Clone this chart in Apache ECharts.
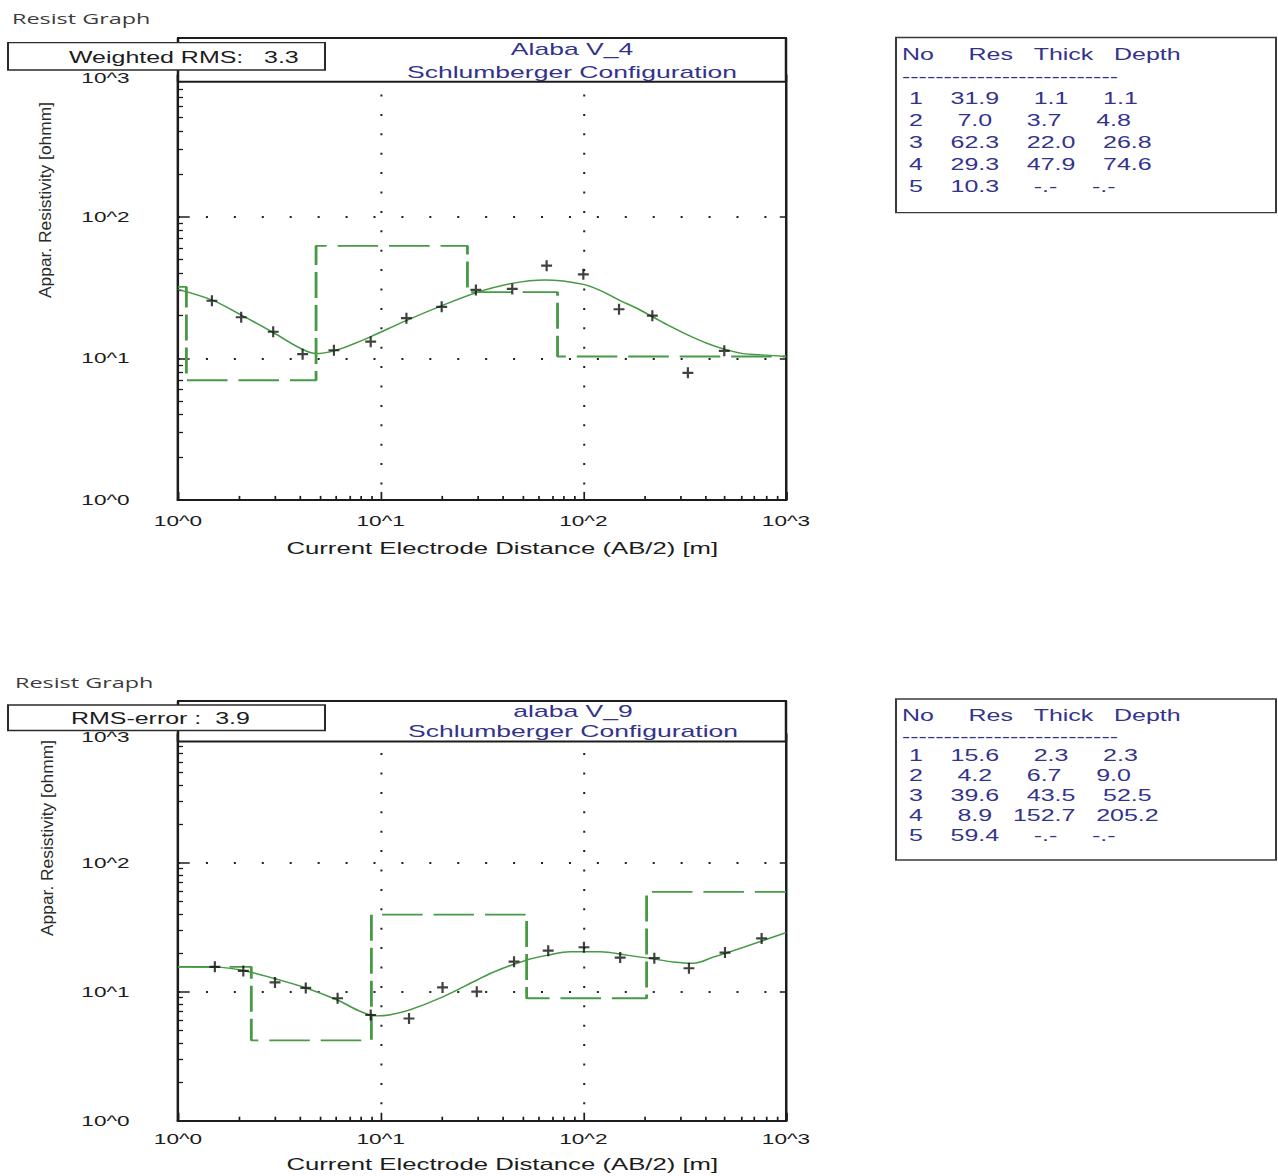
<!DOCTYPE html>
<html><head><meta charset="utf-8">
<script src="https://cdn.jsdelivr.net/npm/echarts@6/dist/echarts.min.js"></script>
<style>
html,body{margin:0;padding:0;background:#fff;overflow:hidden;width:1278px;height:1176px}
#c{position:absolute;left:0;top:0;height:1176px;transform-origin:0 0;}
</style>
</head><body><div id="c"></div>
<script>
// ---------------- data ----------------
const tickValues = [1, 10, 100, 1000];
const tickLabels = ['10^0', '10^1', '10^2', '10^3'];
const minorTickValues = [2,3,4,5,6,7,8,9,20,30,40,50,60,70,80,90,200,300,400,500,600,700,800,900];

const xAxisName = 'Current Electrode Distance (AB/2) [m]';
const yAxisName = 'Appar. Resistivity [ohmm]';
const pageTitle = 'Resist Graph';

// Sounding 1
const title1 = ['Alaba V_4', 'Schlumberger Configuration'];
const rmsLabel1 = 'Weighted RMS:';
const rmsValue1 = 3.3;
const abObs1 = [1.47, 2.05, 2.95, 4.12, 5.88, 8.93, 13.4, 20.0, 29.5, 44.6, 65.9, 100, 150, 219, 328, 496];
const rhoObs1 = [25.5, 19.5, 15.4, 10.7, 11.4, 13.1, 19.2, 23.1, 30.4, 30.9, 45.1, 39.2, 22.2, 20.0, 7.9, 11.3];
const abModel1 = [1, 1.47, 2.05, 2.95, 4.0, 4.83, 5.88, 7.2, 8.93, 13.4, 20, 29.5, 44.6, 64.7, 100, 125, 150, 183, 219, 267, 328, 405, 496, 615, 743, 1000];
const rhoModel1 = [30.7, 25.8, 20.2, 15.2, 11.8, 10.8, 11.3, 12.5, 14.2, 18.5, 23.5, 29.0, 33.8, 35.7, 33.3, 29.5, 25.8, 22.6, 19.7, 16.9, 14.6, 12.8, 11.6, 10.8, 10.6, 10.3];
const layerRes1 = [31.9, 7.0, 62.3, 29.3, 10.3];
const layerThick1 = [1.1, 3.7, 22.0, 47.9];
const layerDepth1 = [1.1, 4.8, 26.8, 74.6];

// Sounding 2
const title2 = ['alaba V_9', 'Schlumberger Configuration'];
const rmsLabel2 = 'RMS-error :';
const rmsValue2 = 3.9;
const abObs2 = [1.52, 2.1, 3.01, 4.27, 6.13, 8.93, 13.8, 20.2, 29.8, 45.5, 67.1, 100.7, 152, 224, 332, 500, 758];
const rhoObs2 = [15.6, 14.5, 11.8, 10.7, 8.9, 6.6, 6.2, 10.8, 10.0, 17.1, 20.8, 22.1, 18.4, 18.2, 15.2, 20.1, 25.9];
const abModel2 = [1, 1.52, 2.1, 3.01, 4.27, 6.13, 8.0, 9.55, 11, 13.8, 20.2, 29.8, 36, 52.5, 67, 86, 121, 164, 209, 278, 349, 437, 615, 1000];
const rhoModel2 = [15.6, 15.5, 14.6, 12.6, 10.7, 8.6, 7.0, 6.5, 6.6, 7.2, 9.1, 12.3, 14.2, 17.6, 19.2, 20.4, 20.4, 19.2, 18.2, 17.0, 16.6, 18.5, 22.1, 28.7];
const layerRes2 = [15.6, 4.2, 39.6, 8.9, 59.4];
const layerThick2 = [2.3, 6.7, 43.5, 152.7];
const layerDepth2 = [2.3, 9.0, 52.5, 205.2];

// ---------------- layout ----------------
const S = 1.56;                 // horizontal stretch of the reference screenshot
const W = 1278 / S;
const FONT = '"Liberation Sans", Arial, sans-serif';
const GREEN = '#469a46';
const NAVY = '#33338c';
const INK = '#1c1c1c';
const X0 = 1, X1 = 1000;

const dom = document.getElementById('c');
dom.style.width = W + 'px';
dom.style.transform = 'scaleX(' + S + ')';

const fmt = v => { const i = tickValues.indexOf(v); return i >= 0 ? tickLabels[i] : ''; };
const fmtY = v => { const i = tickValues.indexOf(v); if (i < 0) return ''; return i === tickValues.length - 1 ? '{top|' + tickLabels[i] + '}' : tickLabels[i]; };

const grids = [
  {left: 178 / S, top: 75.1, width: (786 - 178) / S, height: 424.8},
  {left: 178 / S, top: 733.7, width: (786 - 178) / S, height: 387}
];

function stepData(res, depth) {
  const d = [[X0, res[0]]];
  for (let i = 0; i < depth.length; i++) {
    d.push([depth[i], res[i]]);
    d.push([depth[i], res[i + 1]]);
  }
  d.push([X1, res[res.length - 1]]);
  return d;
}
const zip = (a, b) => a.map((v, i) => [v, b[i]]);

const xAxes = [], yAxes = [];
[0, 1].forEach(g => {
  xAxes.push({
    type: 'log', logBase: 10, gridIndex: g, min: X0, max: X1, position: 'bottom',
    axisLine: {show: true, onZero: false, lineStyle: {color: INK, width: 2}},
    axisTick: {show: true, inside: true, length: 8, lineStyle: {color: INK, width: 1.1}},
    axisLabel: {show: true, margin: g ? 11 : 14, formatter: fmt, color: INK, fontSize: 14.5, fontFamily: FONT},
    splitLine: {show: true, showMinLine: false, showMaxLine: false, lineStyle: {color: '#222', width: 1.3, type: [2, 17.4]}},
    name: xAxisName, nameLocation: 'middle', nameGap: g ? 35 : 40,
    nameTextStyle: {fontSize: 16.5, color: INK, fontFamily: FONT, padding: [0, 0, 0, 26]}
  });
  xAxes.push({
    type: 'log', logBase: 10, gridIndex: g, min: X0, max: X1, position: 'bottom',
    axisLine: {show: false},
    axisTick: {show: true, inside: true, length: 4, customValues: minorTickValues, lineStyle: {color: INK, width: 1.1}},
    axisLabel: {show: false}, splitLine: {show: false}
  });
  yAxes.push({
    type: 'log', logBase: 10, gridIndex: g, min: X0, max: X1, position: 'left',
    axisLine: {show: true, onZero: false, lineStyle: {color: INK, width: 1.6}},
    axisTick: {show: true, inside: true, length: 7.5, lineStyle: {color: INK, width: 1.5}},
    axisLabel: {show: true, margin: 31, formatter: fmtY, color: INK, fontSize: 14.5, fontFamily: FONT,
      rich: {top: {fontSize: 14.5, fontFamily: FONT, color: INK, padding: [6, 0, 0, 0]}}},
    splitLine: {show: true, showMinLine: false, showMaxLine: false, lineStyle: {color: '#222', width: 2, type: [1.3, 16.6]}}
  });
  yAxes.push({
    type: 'log', logBase: 10, gridIndex: g, min: X0, max: X1, position: 'left',
    axisLine: {show: false},
    axisTick: {show: true, inside: true, length: 3.2, customValues: minorTickValues, lineStyle: {color: INK, width: 1.3}},
    axisLabel: {show: false}, splitLine: {show: false}
  });
  yAxes.push({
    type: 'log', logBase: 10, gridIndex: g, min: X0, max: X1, position: 'right',
    axisLine: {show: true, onZero: false, lineStyle: {color: INK, width: 1.6}},
    axisTick: {show: true, inside: true, length: 4, lineStyle: {color: INK, width: 1.5}},
    axisLabel: {show: false}, splitLine: {show: false}
  });
});

const PLUS = 'path://M4,0H6V4H10V6H6V10H4V6H0V4H4Z';
const sets = [
  {obs: zip(abObs1, rhoObs1), model: zip(abModel1, rhoModel1), step: stepData(layerRes1, layerDepth1)},
  {obs: zip(abObs2, rhoObs2), model: zip(abModel2, rhoModel2), step: stepData(layerRes2, layerDepth2)}
];
const series = [];
sets.forEach((s, g) => {
  series.push({type: 'line', xAxisIndex: 2 * g, yAxisIndex: 3 * g, data: s.step, symbol: 'none',
    lineStyle: {color: GREEN, width: 1.8, type: [26, 7]}, z: 2});
  series.push({type: 'line', xAxisIndex: 2 * g, yAxisIndex: 3 * g, data: s.model, symbol: 'none',
    smooth: 0.35, lineStyle: {color: GREEN, width: 1.4}, z: 3});
  series.push({type: 'scatter', xAxisIndex: 2 * g, yAxisIndex: 3 * g, data: s.obs, symbol: PLUS,
    symbolSize: [7, 11], itemStyle: {color: '#111'}, z: 4});
});

// ---------------- graphic (boxes & texts) ----------------
const G = [];
function txt(xImg, y, text, o) {
  const st = Object.assign({text: text, fill: INK, font: '16px ' + FONT,
    align: 'left', verticalAlign: 'middle', textAlign: 'left', textVerticalAlign: 'middle'}, o || {});
  G.push({type: 'text', x: xImg / S, y: y, z: 110, style: st});
}
function rect(x1, y1, x2, y2, stroke, lw, z) {
  G.push({type: 'rect', z: z || 100, shape: {x: x1 / S, y: y1, width: (x2 - x1) / S, height: y2 - y1},
    style: {fill: '#fff', stroke: stroke, lineWidth: lw}});
}
function hline(x1, x2, y, lw, z) {
  G.push({type: 'line', z: z || 101, shape: {x1: x1 / S, y1: y, x2: x2 / S, y2: y}, style: {stroke: INK, lineWidth: lw}});
}
function vline(x, y1, y2, lw, z) {
  G.push({type: 'line', z: z || 101, shape: {x1: x / S, y1: y1, x2: x / S, y2: y2}, style: {stroke: INK, lineWidth: lw}});
}
const NB = '\u00a0';
const pad = (s, n) => NB.repeat(Math.max(0, n - s.length)) + s;
function table(res, thick, depth, top, bottom, yHead, yDash, yRow0, dy) {
  rect(896, top, 1276, bottom, '#3a3a3a', 1.3, 100);
  txt(902, yHead, 'No' + NB.repeat(5) + 'Res' + NB.repeat(3) + 'Thick' + NB.repeat(3) + 'Depth', {fill: NAVY});
  txt(902, yDash, '-'.repeat(26), {fill: NAVY});
  res.forEach((r, i) => {
    const t = i < thick.length ? thick[i].toFixed(1) : '-.-';
    const d = i < depth.length ? depth[i].toFixed(1) : '-.-';
    txt(902, yRow0 + i * dy, NB + (i + 1) + pad(r.toFixed(1), 8) + pad(t, 8) + pad(d, 8), {fill: NAVY});
  });
}
function panel(o) {
  txt(o.titleX, o.titleY, pageTitle, {font: '15px "Open Sans", "Noto Sans", sans-serif', fill: '#3c3c3c'});
  // header box
  rect(178, o.hTop, 786, o.hBot, 'none', 0, 100);
  hline(177, 787, o.hTop, 2); hline(177, 787, o.hBot, 2);
  vline(178, o.hTop, o.hBot, 1.6); vline(786, o.hTop, o.hBot, 1.6);
  txt(o.cx, o.t1y, o.title[0], {fill: NAVY, font: '17px ' + FONT, align: 'center', textAlign: 'center'});
  txt(o.cx, o.t2y, o.title[1], {fill: NAVY, font: '17px ' + FONT, align: 'center', textAlign: 'center'});
  // RMS box
  rect(8, o.rTop, 325, o.rBot, '#2a2a2a', 1.3, 105);
  txt(o.rmsX, (o.rTop + o.rBot) / 2 + 1, o.rmsText, {fill: INK});
  // y axis name
  G.push({type: 'text', x: o.yNameX / S, y: o.yNameY, rotation: Math.PI / 2, scaleY: 1 / S, z: 110,
    style: {text: yAxisName, fill: '#2a2a2a', font: '17.4px ' + FONT,
      align: 'center', verticalAlign: 'middle', textAlign: 'center', textVerticalAlign: 'middle'}});
}
panel({titleX: 12, titleY: 18, hTop: 38, hBot: 81.7, cx: 572, t1y: 49, t2y: 72, title: title1,
  rTop: 42.7, rBot: 70, rmsX: 69, rmsText: rmsLabel1 + NB.repeat(3) + rmsValue1.toFixed(1), yNameX: 45, yNameY: 200});
panel({titleX: 15, titleY: 682, hTop: 701, hBot: 741.5, cx: 573, t1y: 711, t2y: 731, title: title2,
  rTop: 705, rBot: 730.5, rmsX: 71, rmsText: rmsLabel2 + NB.repeat(2) + rmsValue2.toFixed(1), yNameX: 47, yNameY: 838});
table(layerRes1, layerThick1, layerDepth1, 37.5, 212.7, 54, 76, 98, 22);
table(layerRes2, layerThick2, layerDepth2, 699, 860, 715, 736, 755, 20);

const chart = echarts.init(dom, null, {renderer: 'svg', width: W, height: 1176});
chart.setOption({
  animation: false,
  backgroundColor: '#ffffff',
  grid: grids,
  xAxis: xAxes,
  yAxis: yAxes,
  series: series,
  graphic: G
});
</script></body></html>
